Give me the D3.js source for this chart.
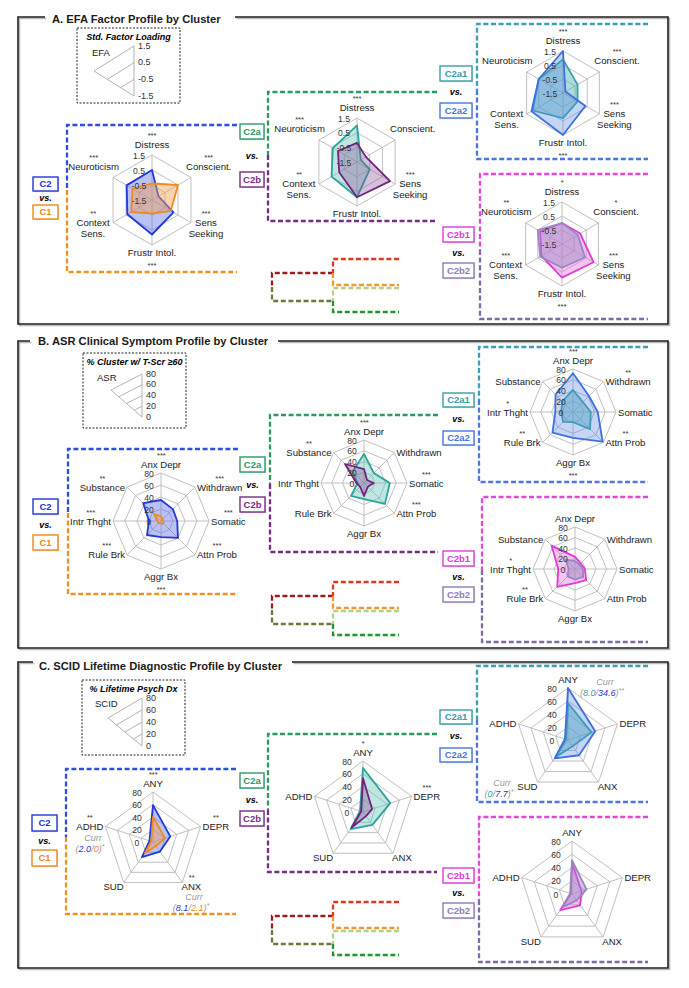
<!DOCTYPE html>
<html>
<head>
<meta charset="utf-8">
<script src="https://cdn.jsdelivr.net/npm/d3@7"></script>
<style>
body { margin: 0; background: #fff; }
svg { font-family: "Liberation Sans", Arial, Helvetica, sans-serif; }
</style>
</head>
<body>
<script>
// ---- axes and tick labels
const efaAxes = ['Distress', 'Conscient.', 'Sens|Seeking', 'Frustr Intol.', 'Context|Sens.', 'Neuroticism']
const asrAxes = ['Anx Depr', 'Withdrawn', 'Somatic', 'Attn Prob', 'Aggr Bx', 'Rule Brk', 'Intr Thght', 'Substance']
const scidAxes = ['ANY', 'DEPR', 'ANX', 'SUD', 'ADHD']
const efaTicks = [1.5, 0.5, -0.5, -1.5]
const pctTicks = [80, 60, 40, 20, 0]

// ---- EFA factor loadings (A)
const efaC2 = [0.5, -1.0, 0.15, 0.8, 0.4, 0.45]
const efaC1 = [-0.4, 0.5, -0.05, -0.6, 0.1, 0.0]
const efaC2a = [1.0, -1.2, -0.5, 0.9, 0.5, 0.4]
const efaC2b = [-0.2, -0.8, 1.1, 0.9, -0.1, 0.0]
const efaC2a1 = [0.9, -0.3, -0.3, 0.3, 1.0, 0.5]
const efaC2a2 = [1.5, -1.3, 0.35, 1.5, 1.1, 0.5]
const efaC2b1 = [0.0, 0.0, 1.1, 0.9, 0.2, 0.3]
const efaC2b2 = [0.0, -0.2, 0.4, 0.2, 0.3, 0.5]

// ---- ASR % T>=60 (B)
const asrC2 = [35, 28, 27, 40, 27, 33, 20, 42]
const asrC1 = [8, 4, 4, 6, 4, 5, 6, 16]
const asrC2a = [54, 26, 48, 55, 30, 34, 12, 30]
const asrC2b = [26, 8, 18, 10, 24, 10, 14, 50]
const asrC2a1 = [41, 26, 33, 45, 19, 26, 22, 28]
const asrC2a2 = [72, 42, 46, 78, 48, 54, 33, 46]
const asrC2b1 = [23, 15, 19, 30, 27, 48, 32, 63]
const asrC2b2 = [15, 12, 15, 22, 20, 20, 12, 25]

// ---- SCID lifetime % (C)
const scidC2 = [59, 29, 19, 30, 6]
const scidC1 = [40, 20, 8, 22, 3]
const scidC2a = [69, 45, 25, 33, 5]
const scidC2b = [53, 15, 8, 30, 3]
const scidC2a1 = [57, 38, 12, 33, 3]
const scidC2a2 = [80, 44, 29, 35, 5]
const scidC2b1 = [47, 15, 21, 30, 2]
const scidC2b2 = [51, 23, 12, 25, 3]

// ---- significance stars (same axis order)
const efaStars = [
    ['***', '***', '***', '***', '**', '***'],
    ['***', '', '***', '', '**', '***'],
    ['***', '***', '***', '***', '', ''],
    ['*', '*', '***', '***', '***', '**'],
]
const asrStars = [
    ['***', '***', '***', '***', '***', '***', '***', '**'],
    ['***', '', '***', '***', '', '', '', '**'],
    ['***', '**', '', '**', '***', '**', '*', ''],
    ['', '', '', '', '', '**', '*', ''],
]
const scidStars = [
    ['***', '**', '**', '', '**'],
    ['*', '***', '', '', ''],
    ['', '', '', '', ''],
    ['', '', '', '', ''],
]

// current dx (group1 / group2, star)
const currC2C1 = [['ADHD', '2.0', '0', '*'], ['ANX', '8.1', '2.1', '*']]
const currC2a1C2a2 = [['ANY', '8.0', '34.6', '**'], ['SUD', '0', '7.7', '*']]

const W = 689, H = 988
const svg = d3.select('body').append('svg').attr('width', W).attr('height', H)

const col = {
    C2: '#2336d6', C1: '#f0881a', C2a: '#2c9a68', C2b: '#7a2a86',
    C2a1: '#35a0a6', C2a2: '#4676e0', C2b1: '#e23ad8', C2b2: '#8f7bba'
}
const sty = {
    C2: { stroke: '#2238db', fill: '#5a6be6', op: 0.42 },
    C1: { stroke: '#f08a1c', fill: '#f3a052', op: 0.45 },
    C2a: { stroke: '#2aa49a', fill: '#5ec2b6', op: 0.4 },
    C2b: { stroke: '#74207f', fill: '#8a4d98', op: 0.35 },
    C2a1: { stroke: '#35a3a6', fill: '#46b0b0', op: 0.45 },
    C2a2: { stroke: '#3f70e0', fill: '#5a88e6', op: 0.35 },
    C2b1: { stroke: '#e03bd6', fill: '#e37fdb', op: 0.45 },
    C2b2: { stroke: '#9a86c2', fill: '#9a86c4', op: 0.45 },
}

// ---- helpers
function dash(g, pts, color) {
    g.append('path')
        .attr('d', d3.line()(pts))
        .attr('fill', 'none')
        .attr('stroke', color)
        .attr('stroke-width', 2.3)
        .attr('stroke-dasharray', '5,2.6')
}

function bracket(g, b, cTop, cBot) {
    dash(g, [[b.x2, b.top], [b.x1, b.top], [b.x1, b.split]], cTop)
    dash(g, [[b.x1, b.split], [b.x1, b.bot], [b.x2, b.bot]], cBot)
}

function tag(g, x, y, w, h, text, color) {
    g.append('rect').attr('x', x + 1.2).attr('y', y + 1.2).attr('width', w).attr('height', h)
        .attr('fill', '#d6d6d6')
    g.append('rect').attr('x', x).attr('y', y).attr('width', w).attr('height', h)
        .attr('fill', '#fff').attr('stroke', color).attr('stroke-width', 1.4)
    g.append('text').attr('x', x + w / 2).attr('y', y + h / 2 + 3.4)
        .attr('text-anchor', 'middle').attr('font-size', 9.5).attr('font-weight', 'bold')
        .attr('fill', color).text(text)
}

function vsPair(g, p, n1, n2) {
    tag(g, p.x, p.y1, p.w, p.h, n1, col[n1])
    tag(g, p.x, p.y2, p.w, p.h, n2, col[n2])
    g.append('text').attr('x', p.x + p.w / 2).attr('y', (p.y1 + p.h + p.y2) / 2 + 3)
        .attr('text-anchor', 'middle').attr('font-size', 9).attr('font-weight', 'bold')
        .attr('font-style', 'italic').text('vs.')
}

function frame(g, f) {
    const pts = [[f.g1, f.top], [f.x1, f.top], [f.x1, f.bot], [f.x2, f.bot], [f.x2, f.top], [f.g2, f.top]]
    g.append('path').attr('d', d3.line()(pts.map(p => [p[0] + 1.5, p[1] + 1.5])))
        .attr('fill', 'none').attr('stroke', '#bbb').attr('stroke-width', 1.6)
    g.append('path').attr('d', d3.line()(pts))
        .attr('fill', 'none').attr('stroke', '#1e1e1e').attr('stroke-width', 1.6)
    g.append('text').attr('x', f.tx).attr('y', f.ty).attr('font-size', 11.2)
        .attr('font-weight', 'bold').attr('fill', '#1a1a1a').text(f.title)
}

function legendBox(g, L) {
    g.append('rect').attr('x', L.x).attr('y', L.y).attr('width', L.w).attr('height', L.h)
        .attr('fill', '#fff').attr('stroke', '#222').attr('stroke-width', 1)
        .attr('stroke-dasharray', '2,1.5')
    g.append('text').attr('x', L.x + L.w / 2).attr('y', L.y + 12).attr('text-anchor', 'middle')
        .attr('font-size', 9).attr('font-weight', 'bold').attr('font-style', 'italic').text(L.title)
    g.append('text').attr('x', L.nx).attr('y', L.ny).attr('font-size', 9.5).attr('fill', '#222').text(L.name)
    const f = d3.scaleLinear().domain(d3.extent(L.ticks)).range([0, 1])
    const wg = g.append('g').attr('stroke', '#aaa').attr('stroke-width', 0.9).attr('fill', 'none')
    wg.append('path').attr('d', d3.line()([[L.wx, L.wy - L.wr], [L.wx, L.wy], [L.ax, L.ay]]))
    L.ticks.forEach(t => {
        const k = f(t)
        if (k <= 0) return
        wg.append('path').attr('d', d3.line()([[L.wx, L.wy - k * L.wr], [L.wx + k * (L.ax - L.wx), L.wy + k * (L.ay - L.wy)]]))
    })
    L.ticks.forEach(t => {
        g.append('text').attr('x', L.wx + 4).attr('y', L.wy - f(t) * L.wr + 2.5)
            .attr('font-size', 9).attr('fill', '#333').text(t)
    })
}

function radar(g, o) {
    const n = o.axes.length
    const r = d3.scaleLinear().domain(d3.extent(o.ticks)).range([0, o.R]).clamp(true)
    const ang = i => i * 2 * Math.PI / n
    const px = (i, v) => o.cx + v * Math.sin(ang(i))
    const py = (i, v) => o.cy - v * Math.cos(ang(i))

    const grid = g.append('g').attr('fill', 'none').attr('stroke', '#b9b9b9').attr('stroke-width', 0.9)
    o.ticks.forEach(t => {
        if (r(t) <= 0) return
        grid.append('path').attr('d', d3.line()(d3.range(n).map(i => [px(i, r(t)), py(i, r(t))])) + 'Z')
    })
    d3.range(n).forEach(i => {
        grid.append('line').attr('x1', o.cx).attr('y1', o.cy).attr('x2', px(i, o.R)).attr('y2', py(i, o.R))
    })

    const path = d3.lineRadial().angle((d, i) => ang(i)).radius(d => r(d)).curve(d3.curveLinearClosed)
    o.series.forEach(s => {
        g.append('path')
            .attr('transform', `translate(${o.cx},${o.cy})`)
            .attr('d', path(s.values))
            .attr('fill', s.fill).attr('fill-opacity', s.op)
            .attr('stroke', s.stroke).attr('stroke-width', 1.8).attr('stroke-linejoin', 'round')
    })

    o.ticks.forEach(t => {
        g.append('text').attr('x', o.cx + o.tdx).attr('y', o.cy - r(t) + 3.6)
            .attr('text-anchor', 'middle').attr('font-size', 8.6).attr('fill', '#333').text(t)
    })

    o.axes.forEach((name, i) => {
        const s = Math.sin(ang(i)), c = Math.cos(ang(i))
        const vx = px(i, o.R), vy = py(i, o.R)
        const lines = name.split('|')
        let anchor, x, y, bottom = false
        if (Math.abs(s) < 1e-6) {
            anchor = 'middle'; x = vx
            if (c > 0) y = vy - o.topGap
            else { y = vy + 11; bottom = true }
        } else if (n === 6) {
            if (c > 0) { anchor = s > 0 ? 'start' : 'end'; x = vx + (s > 0 ? -5 : 6); y = vy - 8 }
            else { anchor = 'middle'; x = vx + (s > 0 ? 15 : -20); y = vy + 3 }
        } else if (n === 8) {
            anchor = s > 0 ? 'start' : 'end'; x = vx + (s > 0 ? 2 : -2); y = vy + 3.5
        } else {
            if (c > 0) { anchor = s > 0 ? 'start' : 'end'; x = vx + (s > 0 ? 2 : -2); y = vy + 3.5 }
            else { anchor = 'middle'; x = vx + (s > 0 ? 9 : -10); y = vy + 8 }
        }
        const nodes = lines.map((ln, k) => g.append('text')
            .attr('x', x).attr('y', y + k * 11).attr('text-anchor', anchor)
            .attr('font-size', 9.6).attr('fill', '#222').text(ln))
        const st = o.stars[i]
        if (st) {
            const bb = nodes[0].node().getBBox()
            g.append('text').attr('x', bb.x + bb.width / 2)
                .attr('y', bottom ? y + 12 : y - 10)
                .attr('text-anchor', 'middle').attr('font-size', 7.5).attr('fill', '#333').text(st)
        }
    })
}

function curr(g, x, y, item, c1, c2) {
    g.append('text').attr('x', x).attr('y', y).attr('text-anchor', 'middle')
        .attr('font-size', 9).attr('font-style', 'italic').attr('fill', '#999').text('Curr')
    const t = g.append('text').attr('x', x - 3).attr('y', y + 11).attr('text-anchor', 'middle')
        .attr('font-size', 9).attr('font-style', 'italic')
    t.append('tspan').attr('fill', '#999').text('(')
    t.append('tspan').attr('fill', c1).text(item[1])
    t.append('tspan').attr('fill', '#999').text('/')
    t.append('tspan').attr('fill', c2).text(item[2])
    t.append('tspan').attr('fill', '#999').text(')')
    t.append('tspan').attr('fill', '#999').attr('font-size', 7).attr('dy', -3).text(item[3])
}

function dendro(g, b) {
    const x0 = 272, x1 = 333, x2 = 399
    dash(g, [[x1, b + 14], [x0, b + 14], [x0, b + 28]], '#9b1c1c')
    dash(g, [[x0, b + 28], [x0, b + 42], [x1, b + 42]], '#6d7a3e')
    dash(g, [[x2, b], [x1, b], [x1, b + 14]], '#e5361f')
    dash(g, [[x1, b + 14], [x1, b + 26], [x2, b + 26]], '#f19a2c')
    dash(g, [[x2, b + 29], [x1, b + 29], [x1, b + 42]], '#b7cf86')
    dash(g, [[x1, b + 42], [x1, b + 53], [x2, b + 53]], '#22962c')
}

// ---- panel definitions
const panels = [
    {
        frame: { x1: 18, x2: 668, top: 17, bot: 324, g1: 45, g2: 235, tx: 52, ty: 22.5, title: 'A. EFA Factor Profile by Cluster' },
        legend: { x: 77, y: 28, w: 103, h: 75, title: 'Std. Factor Loading', name: 'EFA', nx: 92, ny: 56, wx: 134, wy: 96, wr: 50, ax: 94, ay: 71, ticks: efaTicks },
        axes: efaAxes, ticks: efaTicks, tdx: -13, topGap: 7, stars: efaStars,
        data: [[efaC2, efaC1], [efaC2a, efaC2b], [efaC2a1, efaC2a2], [efaC2b1, efaC2b2]],
        pos: [
            { cx: 152, cy: 200, R: 45 }, { cx: 357, cy: 162, R: 44 },
            { cx: 563, cy: 93, R: 42 }, { cx: 562, cy: 244, R: 42 }],
        br: [
            { x1: 67, x2: 237, top: 125, split: 190, bot: 272 },
            { x1: 268, x2: 437, top: 92, split: 155, bot: 221 },
            { x1: 477, x2: 648, top: 24, split: 90, bot: 159 },
            { x1: 480, x2: 648, top: 174, split: 250, bot: 319 }],
        tags: [
            { x: 33, y1: 177, y2: 205, w: 25, h: 14 },
            { x: 240, y1: 124, y2: 172, w: 24, h: 15 },
            { x: 440, y1: 66, y2: 103, w: 32, h: 15 },
            { x: 443, y1: 227, y2: 263, w: 31, h: 15 }],
        dendro: 259
    },
    {
        frame: { x1: 18, x2: 668, top: 341, bot: 648, g1: 30, g2: 278, tx: 38, ty: 344.5, title: 'B. ASR Clinical Symptom Profile by Cluster' },
        legend: { x: 83, y: 353, w: 103, h: 75, title: '% Cluster w/ T-Scr ≥60', name: 'ASR', nx: 97, ny: 381, wx: 142, wy: 417, wr: 43, ax: 111, ay: 390, ticks: pctTicks },
        axes: asrAxes, ticks: pctTicks, tdx: -12, topGap: 5, stars: asrStars,
        data: [[asrC2, asrC1], [asrC2a, asrC2b], [asrC2a1, asrC2a2], [asrC2b1, asrC2b2]],
        pos: [
            { cx: 161, cy: 521, R: 48 }, { cx: 364, cy: 483, R: 43 },
            { cx: 573, cy: 412, R: 43 }, { cx: 575, cy: 569, R: 42 }],
        br: [
            { x1: 68, x2: 238, top: 449, split: 513, bot: 594 },
            { x1: 270, x2: 438, top: 415, split: 484, bot: 552 },
            { x1: 479, x2: 648, top: 347, split: 400, bot: 482 },
            { x1: 482, x2: 648, top: 497, split: 570, bot: 642 }],
        tags: [
            { x: 33, y1: 499, y2: 535, w: 25, h: 15 },
            { x: 240, y1: 457, y2: 497, w: 25, h: 15 },
            { x: 443, y1: 393, y2: 431, w: 31, h: 14 },
            { x: 443, y1: 551, y2: 587, w: 31, h: 15 }],
        dendro: 582
    },
    {
        frame: { x1: 18, x2: 668, top: 662, bot: 968, g1: 33, g2: 292, tx: 39, ty: 669.5, title: 'C. SCID Lifetime Diagnostic Profile by Cluster' },
        legend: { x: 82, y: 680, w: 103, h: 75, title: '% Lifetime Psych Dx', name: 'SCID', nx: 95, ny: 707, wx: 142, wy: 746, wr: 48, ax: 108, ay: 718, ticks: pctTicks },
        axes: scidAxes, ticks: pctTicks, tdx: -16, topGap: 5, stars: scidStars,
        data: [[scidC2, scidC1], [scidC2a, scidC2b], [scidC2a1, scidC2a2], [scidC2b1, scidC2b2]],
        pos: [
            { cx: 153, cy: 842, R: 50 }, { cx: 363, cy: 812, R: 51 },
            { cx: 568, cy: 740, R: 52 }, { cx: 572, cy: 894, R: 53 }],
        br: [
            { x1: 66, x2: 236, top: 769, split: 837, bot: 914 },
            { x1: 268, x2: 437, top: 734, split: 810, bot: 872 },
            { x1: 477, x2: 648, top: 666, split: 720, bot: 802 },
            { x1: 479, x2: 648, top: 817, split: 900, bot: 962 }],
        tags: [
            { x: 32, y1: 815, y2: 850, w: 25, h: 16 },
            { x: 240, y1: 773, y2: 811, w: 24, h: 15 },
            { x: 440, y1: 710, y2: 748, w: 32, h: 14 },
            { x: 443, y1: 868, y2: 903, w: 31, h: 15 }],
        dendro: 902
    }
]

const pairs = [['C2', 'C1'], ['C2a', 'C2b'], ['C2a1', 'C2a2'], ['C2b1', 'C2b2']]
// dashed colours of each bracket (top part, bottom part)
const brCols = [['#2f4ee0', '#f0901e'], ['#2c9a5e', '#7a2a86'], ['#3a9fb8', '#4a78e0'], ['#e545dd', '#7d6aa6']]

panels.forEach(p => {
    const g = svg.append('g')
    frame(g, p.frame)
    legendBox(g, p.legend)
    dendro(g, p.dendro)
    pairs.forEach((pr, k) => {
        bracket(g, p.br[k], brCols[k][0], brCols[k][1])
        vsPair(g, p.tags[k], pr[0], pr[1])
        radar(g, {
            ...p.pos[k], axes: p.axes, ticks: p.ticks, tdx: p.tdx, topGap: p.topGap,
            stars: p.stars[k],
            series: [
                { values: p.data[k][0], ...sty[pr[0]] },
                { values: p.data[k][1], ...sty[pr[1]] }]
        })
    })
})

// current-diagnosis notes in panel C
const gc = svg.append('g')
curr(gc, 93, 841, currC2C1[0], col.C2, col.C1)
curr(gc, 194, 900, currC2C1[1], col.C2, col.C1)
curr(gc, 605, 685, currC2a1C2a2[0], col.C2a1, '#2336d6')
curr(gc, 502, 786, currC2a1C2a2[1], col.C2a1, '#2336d6')
</script>
</body>
</html>
